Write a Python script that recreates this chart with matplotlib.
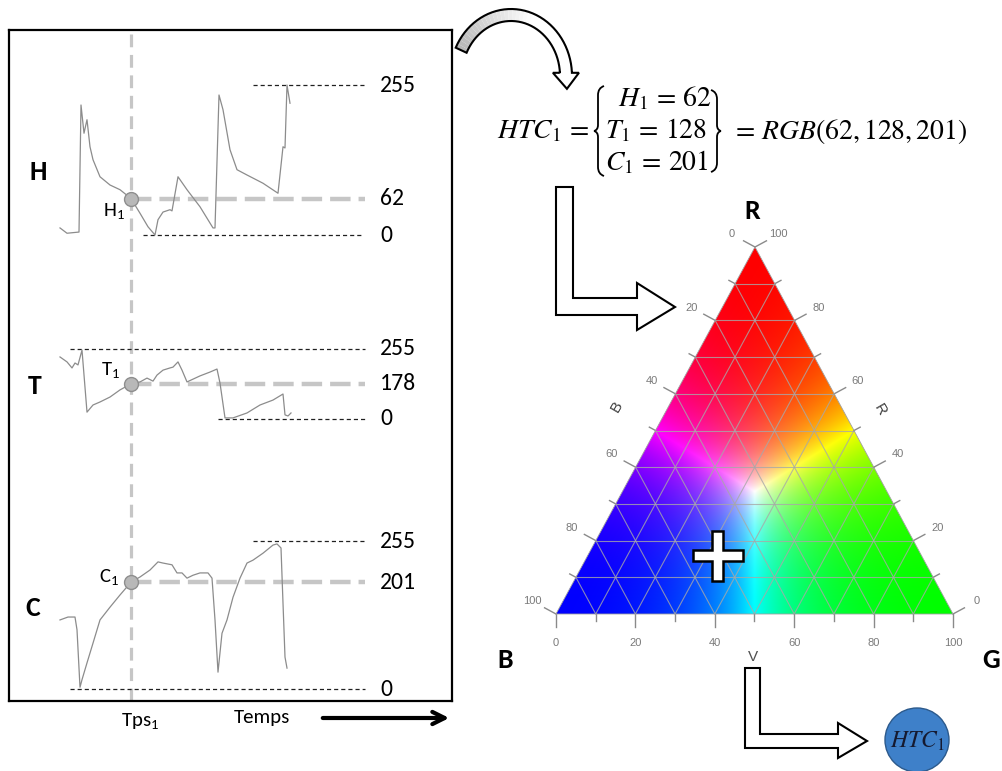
import numpy as np
import matplotlib
matplotlib.use('Agg')
import matplotlib.pyplot as plt
from matplotlib import font_manager
from matplotlib.patches import Polygon, Circle, PathPatch
from matplotlib.path import Path

W, H = 1002, 771

# ---- signals: time sample (t) and value 0-255 ----
h_time = [51, 58, 70, 72, 75, 78, 81, 84, 91, 101, 111, 122, 131, 139, 146, 149, 154, 161,
          163, 169, 178, 191, 204, 206, 210, 214, 221, 228, 238, 254, 269, 274, 276, 278, 281]
h_vals = [12, 3, 5, 221, 173, 196, 150, 128, 99, 85, 77, 62, 37, 14, 0, 26, 39, 43,
          41, 99, 77, 48, 12, 12, 238, 213, 145, 111, 102, 88, 71, 150, 148, 255, 224]

t_time = [51, 58, 63, 66, 69, 73, 78, 84, 91, 101, 111, 122, 131, 138, 144, 148, 154, 161,
          164, 169, 173, 178, 191, 201, 208, 211, 216, 224, 238, 251, 264, 274, 276, 279, 282]
t_vals = [226, 208, 186, 204, 197, 251, 25, 51, 62, 80, 106, 128, 135, 149, 138, 160, 178, 186,
          189, 208, 178, 135, 157, 171, 182, 131, 4, 4, 22, 51, 69, 91, 15, 11, 22]

c_time = [51, 59, 66, 68, 71, 73, 78, 84, 91, 101, 111, 122, 131, 141, 149, 154, 163, 168,
          173, 178, 184, 191, 199, 203, 206, 209, 213, 218, 224, 231, 238, 244, 254, 264,
          268, 272, 274, 276, 278]
c_vals = [119, 124, 124, 102, 3, 16, 45, 79, 119, 141, 162, 184, 193, 205, 219, 217, 214, 200,
          200, 191, 196, 200, 200, 191, 119, 29, 96, 119, 158, 191, 217, 222, 234, 248,
          250, 243, 148, 55, 36]

tps1 = 122                        # sample picked (Tps1)
mark_vals = [62, 128, 184]        # where the grey markers sit on each signal
mark_text = ['62', '178', '201']  # value labels as printed
htc = [62, 128, 201]              # H1, T1, C1 -> RGB

# ---- fonts ----
def pick_font(names):
    have = {f.name for f in font_manager.fontManager.ttflist}
    for n in names:
        if n in have:
            return n
    return 'DejaVu Sans'

SANS = pick_font(['Carlito', 'Liberation Sans Narrow', 'Open Sans'])
TICKF = pick_font(['Liberation Sans', 'Arial'])
plt.rcParams['font.family'] = SANS
plt.rcParams['mathtext.fontset'] = 'stix'

fig = plt.figure(figsize=(W / 100, H / 100), dpi=100)
ax = fig.add_axes([0, 0, 1, 1])
ax.set_xlim(0, W)
ax.set_ylim(H, 0)
ax.axis('off')


def px_axes(x0, y0, x1, y1):
    a = fig.add_axes([x0 / W, 1 - y1 / H, (x1 - x0) / W, (y1 - y0) / H])
    a.patch.set_alpha(0)
    return a


# ---- left box with the three signals ----
box = px_axes(9, 30, 452, 701)
box.set_xlim(0, 443)
box.set_ylim(0, 1)
box.set_xticks([])
box.set_yticks([])
for s in box.spines.values():
    s.set_linewidth(1.6)
box.axvline(tps1, color='#c6c6c6', lw=2.3, dashes=(4, 2.4), zorder=1)

panels = [
    # name, pixel top/bottom of 0..255 range, curve, black dashed lines (level, t0, t1), label offset
    ('H', 85, 235, h_time, h_vals, [(255, 244, 356), (0, 134, 354)], (-17, -12)),
    ('T', 349, 419, t_time, t_vals, [(255, 61, 356), (0, 209, 356)], (-20, 14)),
    ('C', 541, 689, c_time, c_vals, [(255, 244, 356), (0, 61, 356)], (-22, 5)),
]
letter_pos = [(38, 172), (35, 386), (33, 608)]

for i, (name, ytop, ybot, tt, vv, refs, off) in enumerate(panels):
    pa = px_axes(9, ytop, 452, ybot)
    pa.set_xlim(0, 443)
    pa.set_ylim(0, 255)
    pa.axis('off')
    for lev, t0, t1 in refs:
        pa.hlines(lev, t0, t1, colors='#202020', lw=0.9, linestyles=(0, (3.3, 2.4)),
                  clip_on=False)
        pa.text(371, lev, str(lev), ha='left', va='center', fontsize=17, clip_on=False)
    pa.hlines(mark_vals[i], tps1, 356, colors='#c6c6c6', lw=3.2, linestyles=(0, (4.6, 1.8)),
              clip_on=False)
    pa.text(371, mark_vals[i], mark_text[i], ha='left', va='center', fontsize=17, clip_on=False)
    pa.plot(tt, vv, color='#8c8c8c', lw=0.9, clip_on=False)
    pa.plot(tps1, mark_vals[i], 'o', ms=10, mfc='#b8b8b8', mec='#8e8e8e', mew=1.0,
            zorder=5, clip_on=False)
    pa.annotate(r'$\mathregular{%s_1}$' % name, (tps1, mark_vals[i]), xytext=off,
                textcoords='offset pixels', ha='center', va='center', fontsize=15)
    ax.text(*letter_pos[i], name, ha='center', va='center', fontsize=20, fontweight='bold')

ax.text(140, 721, r'$\mathregular{Tps_1}$', ha='center', va='center', fontsize=15)
ax.text(262, 718, 'Temps', ha='center', va='center', fontsize=15)
ax.annotate('', xy=(452, 718), xytext=(320, 718),
            arrowprops=dict(arrowstyle='->', lw=3, color='k', mutation_scale=22))

# ---- curved arrow towards the formula ----
cx, cy, rx, ry = 511, 76, 55, 61
th = np.radians(np.linspace(155, 3, 40))
half = 6.0
out_pts = [(cx + (rx + half) * np.cos(a), cy - (ry + half) * np.sin(a)) for a in th]
in_pts = [(cx + (rx - half) * np.cos(a), cy - (ry - half) * np.sin(a)) for a in th]
for k in range(len(th) - 1):
    shade = 0.72 + 0.28 * min(1, k / 22)
    quad = [out_pts[k], out_pts[k + 1], in_pts[k + 1], in_pts[k]]
    ax.add_patch(Polygon(quad, closed=True, facecolor=(shade, shade, shade),
                         edgecolor='none', zorder=3))
a_end = th[-1]
bx, by = cx + rx * np.cos(a_end), cy - ry * np.sin(a_end)
head = [(bx - 13, by), (bx + 1, by + 16), (bx + 13, by)]
body_outline = out_pts + [(bx + half, by), head[2], head[1], head[0], (bx - half, by)] + in_pts[::-1]
ax.add_patch(Polygon(head, closed=True, facecolor='white', edgecolor='none', zorder=3))
ax.add_patch(Polygon(body_outline, closed=True, facecolor='none', edgecolor='k', lw=1.5, zorder=4))

# ---- formula ----
fs = 20
ax.text(589, 131, r'$HTC_1\,=$', ha='right', va='center', fontsize=fs)
ax.text(618, 98, r'$H_1\,=\,%d$' % htc[0], ha='left', va='center', fontsize=fs)
ax.text(605, 130, r'$T_1\,=\,%d$' % htc[1], ha='left', va='center', fontsize=fs)
ax.text(605, 162, r'$C_1\,=\,%d$' % htc[2], ha='left', va='center', fontsize=fs)
ax.text(731, 131, r'$=\,RGB(%d, %d, %d)$' % tuple(htc), ha='left', va='center', fontsize=fs)


def brace(x, y0, y1, d):
    # d=+1 left brace opening right, d=-1 right brace
    ym = (y0 + y1) / 2
    verts = [(x + 7 * d, y0), (x + 1 * d, y0 + 2), (x + 1 * d, y0 + 9), (x + 1 * d, ym - 6),
             (x + 1 * d, ym - 1), (x - 3 * d, ym), (x - 3 * d, ym),
             (x + 1 * d, ym + 1), (x + 1 * d, ym + 6), (x + 1 * d, y1 - 9),
             (x + 1 * d, y1 - 2), (x + 7 * d, y1)]
    codes = [Path.MOVETO, Path.CURVE3, Path.CURVE3, Path.LINETO, Path.CURVE3, Path.CURVE3,
             Path.MOVETO, Path.CURVE3, Path.CURVE3, Path.LINETO, Path.CURVE3, Path.CURVE3]
    ax.add_patch(PathPatch(Path(verts, codes), facecolor='none', edgecolor='k', lw=1.3))


brace(597, 86, 176, 1)
brace(718, 90, 172, -1)

# ---- ternary triangle ----
VB = np.array([556.0, 614.0])
VG = np.array([953.0, 614.0])
VR = np.array([755.0, 247.0])


def tern(r, g, b):
    s = r + g + b
    return (r * VR + g * VG + b * VB) / s


xs = np.linspace(VB[0], VG[0], 420)
ys = np.linspace(VR[1], VB[1], 390)
X, Y = np.meshgrid(xs, ys)
r = (VB[1] - Y) / (VB[1] - VR[1])
g = ((X - VB[0]) - r * (VR[0] - VB[0])) / (VG[0] - VB[0])
b = 1 - r - g
bary = np.clip(np.dstack([r, g, b]), 0, 1)
col = bary / (bary.max(axis=2, keepdims=True) + 1e-9)
col = np.clip(col, 0, 1) ** 1.7
tri = Polygon([VB, VG, VR], closed=True, facecolor='none', edgecolor='#a0a0a0', lw=0.6, zorder=3)
ax.add_patch(tri)
im = ax.imshow(col, extent=(VB[0], VG[0], VB[1], VR[1]), origin='upper', aspect='auto',
               interpolation='bilinear', zorder=1)
im.set_clip_path(tri)
ax.set_xlim(0, W)
ax.set_ylim(H, 0)

grid_kw = dict(color='#a8a8a8', lw=0.8, alpha=0.8, zorder=2)
for k in range(1, 10):
    for p, q in [(tern(k, 0, 10 - k), tern(k, 10 - k, 0)),
                 (tern(0, k, 10 - k), tern(10 - k, k, 0)),
                 (tern(0, 10 - k, k), tern(10 - k, 0, k))]:
        ax.plot([p[0], q[0]], [p[1], q[1]], **grid_kw)


def unit(v):
    return v / np.hypot(*v)


n_bot = np.array([0.0, 1.0])
n_right = unit(np.array([VR[1] - VG[1], -(VR[0] - VG[0])]) * -1)
n_left = unit(np.array([-(VR[1] - VB[1]), (VR[0] - VB[0])]) * -1)
if n_right[0] < 0:
    n_right = -n_right
if n_left[0] > 0:
    n_left = -n_left

tick_kw = dict(color='#8a8a8a', lw=1.0, zorder=2)
lab_kw = dict(fontsize=8, color='#7a7a7a', family=TICKF, ha='center', va='center')
for v in range(0, 101, 10):
    major = v % 20 == 0
    ln = 13 if major else 7
    for p, n in [(tern(0, v, 100 - v), n_bot),
                 (tern(v, 100 - v, 0), n_right),
                 (tern(100 - v, 0, v), n_left)]:
        ax.plot([p[0], p[0] + ln * n[0]], [p[1], p[1] + ln * n[1]], **tick_kw)
        if major:
            d = 29 if n is n_bot else 27
            ax.text(p[0] + d * n[0], p[1] + d * n[1], str(v), **lab_kw)

ax.text(617, 407, 'B', rotation=60, fontsize=11, color='#404040', family=TICKF, ha='center', va='center')
ax.text(880, 410, 'R', rotation=-60, fontsize=11, color='#404040', family=TICKF, ha='center', va='center')
ax.text(753, 657, 'V', fontsize=11, color='#505050', family=TICKF, ha='center', va='center')

ax.text(752, 211, 'R', fontsize=20, fontweight='bold', ha='center', va='center')
ax.text(505, 660, 'B', fontsize=20, fontweight='bold', ha='center', va='center')
ax.text(991, 660, 'G', fontsize=20, fontweight='bold', ha='center', va='center')

# cross at the HTC colour position
px, py = tern(*htc)
L, T_ = 25, 5.5
plus = [(px - T_, py - L), (px + T_, py - L), (px + T_, py - T_), (px + L, py - T_),
        (px + L, py + T_), (px + T_, py + T_), (px + T_, py + L), (px - T_, py + L),
        (px - T_, py + T_), (px - L, py + T_), (px - L, py - T_), (px - T_, py - T_)]
ax.add_patch(Polygon(plus, closed=True, facecolor='white', edgecolor='k', lw=1.8, zorder=5))

# ---- L-shaped arrows ----
arrow1 = [(556, 187), (573, 187), (573, 298), (637, 298), (637, 283), (675, 307),
          (637, 330), (637, 315), (556, 315)]
arrow2 = [(745, 668), (760, 668), (760, 734), (838, 734), (838, 723), (867, 741),
          (838, 758), (838, 748), (745, 748)]
for poly in (arrow1, arrow2):
    ax.add_patch(Polygon(poly, closed=True, facecolor='white', edgecolor='k', lw=1.5, zorder=4))

# ---- resulting colour ----
rgb = tuple(c / 255 for c in htc)
ax.add_patch(Circle((917, 740), 32, facecolor=rgb, edgecolor='#2c5a8c', lw=1.0, zorder=4))
ax.text(917, 741, r'$HTC_1$', ha='center', va='center', fontsize=17, color='#151a30', zorder=5)

fig.savefig('out.png', dpi=100)
